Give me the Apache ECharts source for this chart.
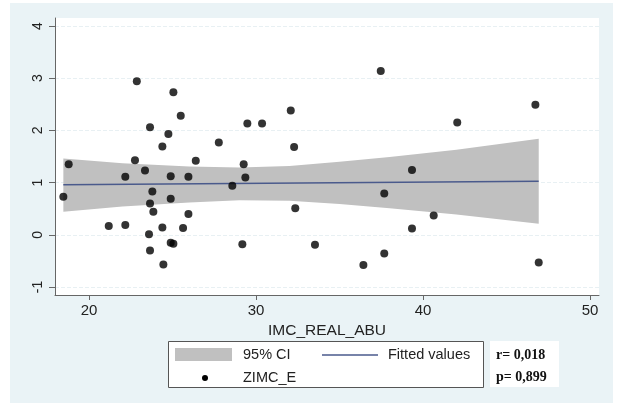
<!DOCTYPE html>
<html>
<head>
<meta charset="utf-8">
<script src="https://cdn.jsdelivr.net/npm/echarts@6/dist/echarts.min.js"></script>
<style>html,body{margin:0;padding:0;background:#fff;}#c{width:617px;height:403px;}</style>
</head>
<body>
<div id="c"></div>
<script>
// Scatter data (IMC_REAL_ABU vs ZIMC_E)
var xVals = [18.46,18.78,22.86,21.18,22.17,22.17,22.75,23.35,23.65,23.79,23.65,23.85,23.59,23.65,24.39,24.39,24.45,24.75,24.89,24.89,24.89,25.05,25.05,25.49,25.63,25.95,25.95,26.39,27.77,28.58,29.26,29.36,29.48,29.18,30.36,32.08,32.28,32.35,33.53,37.47,46.73,42.05,39.34,37.68,40.64,39.34,37.68,36.43,46.93];
var yVals = [0.73,1.35,2.94,0.17,1.11,0.19,1.43,1.23,2.06,0.83,0.60,0.44,0.01,-0.30,1.69,0.14,-0.57,1.93,1.12,0.69,-0.15,-0.17,2.73,2.28,0.13,1.11,0.40,1.42,1.77,0.94,1.35,1.10,2.13,-0.18,2.13,2.38,1.68,0.51,-0.19,3.14,2.49,2.15,1.24,0.79,0.37,0.12,-0.36,-0.58,-0.53];
// 95% CI band
var ciX = [18.46,22,26,29,32,35,38,42,46.93];
var ciLow = [0.44,0.54,0.62,0.66,0.65,0.59,0.51,0.39,0.21];
var ciHigh = [1.46,1.37,1.31,1.29,1.32,1.40,1.49,1.63,1.84];
// Fitted values
var fitX = [18.46,46.93];
var fitY = [0.96,1.025];
// Tick labels
var xTicks = [20,30,40,50];
var yTicks = [-1,0,1,2,3,4];

var chart = echarts.init(document.getElementById('c'));
var scatterData = xVals.map(function(x,i){return [x,yVals[i]];});
var bandData = ciX.map(function(x,i){return [x,ciLow[i],ciHigh[i]];});
var fitData = fitX.map(function(x,i){return [x,fitY[i]];});

var axisCol = '#666';
var font = 'Liberation Sans, Arial, sans-serif';
chart.setOption({
  animation:false,
  backgroundColor:'#ffffff',
  graphic:[
    {type:'rect',z:-10,shape:{x:10,y:3,width:603,height:400},style:{fill:'#eaf3f6'}},
    // legend box
    {type:'rect',shape:{x:168.5,y:341.5,width:315,height:46},style:{fill:'#ffffff',stroke:'#555',lineWidth:1}},
    {type:'rect',shape:{x:175,y:348,width:57,height:13},style:{fill:'#c0c0c0'}},
    {type:'text',style:{x:243,y:355,text:'95% CI',font:'14.5px '+font,fill:'#222',textVerticalAlign:'middle'}},
    {type:'line',shape:{x1:322,y1:355,x2:378,y2:355},style:{stroke:'#4a5a8c',lineWidth:1.3}},
    {type:'text',style:{x:388,y:355,text:'Fitted values',font:'14.5px '+font,fill:'#222',textVerticalAlign:'middle'}},
    {type:'circle',shape:{cx:205,cy:378,r:3},style:{fill:'#000'}},
    {type:'text',style:{x:243,y:378,text:'ZIMC_E',font:'14.5px '+font,fill:'#222',textVerticalAlign:'middle'}},
    // r / p box
    {type:'rect',shape:{x:490,y:341,width:69,height:46},style:{fill:'#ffffff'}},
    {type:'text',style:{x:496,y:355,text:'r= 0,018',font:'bold 14px Liberation Serif, Times New Roman, serif',fill:'#111',textVerticalAlign:'middle'}},
    {type:'text',style:{x:496,y:377,text:'p= 0,899',font:'bold 14px Liberation Serif, Times New Roman, serif',fill:'#111',textVerticalAlign:'middle'}}
  ],
  grid:{left:55,top:18,right:18,bottom:108,show:true,backgroundColor:'#ffffff',borderWidth:0},
  xAxis:{
    type:'value',min:17.96,max:50.54,
    name:'IMC_REAL_ABU',nameLocation:'middle',nameGap:28,
    nameTextStyle:{fontFamily:font,fontSize:15.5,color:'#222'},
    axisLine:{show:true,onZero:false,lineStyle:{color:axisCol,width:1}},
    axisTick:{show:true,length:5,lineStyle:{color:axisCol},customValues:xTicks},
    axisLabel:{fontFamily:font,fontSize:15,color:'#222',margin:8,customValues:xTicks},
    splitLine:{show:false}
  },
  yAxis:{
    type:'value',min:-1.153,max:4.153,
    axisLine:{show:true,onZero:false,lineStyle:{color:axisCol,width:1}},
    axisTick:{show:true,length:6,lineStyle:{color:axisCol},customValues:yTicks},
    axisLabel:{fontFamily:font,fontSize:14,color:'#222',rotate:90,margin:10,customValues:yTicks},
    splitLine:{show:false}
  },
  series:[
    {type:'custom',z:1,silent:true,data:bandData,
     markLine:{silent:true,symbol:'none',label:{show:false},z:0,
       lineStyle:{color:'#e8f0f3',type:'dashed',width:1},
       data:yTicks.map(function(v){return {yAxis:v};})},
     renderItem:function(params,api){
       if(params.dataIndex!==0) return null;
       var n = ciX.length, pts=[];
       for(var i=0;i<n;i++) pts.push(api.coord([ciX[i],ciHigh[i]]));
       for(var j=n-1;j>=0;j--) pts.push(api.coord([ciX[j],ciLow[j]]));
       return {type:'polygon',shape:{points:pts},style:{fill:'#c0c0c0'}};
     },
     encode:{x:0,y:[1,2]}},
    {type:'line',z:3,data:fitData,symbol:'none',lineStyle:{color:'#4a5a8c',width:1.5}},
    {type:'scatter',z:5,data:scatterData,symbol:'circle',symbolSize:8,itemStyle:{color:'#000'}}
  ]
});
</script>
</body>
</html>
